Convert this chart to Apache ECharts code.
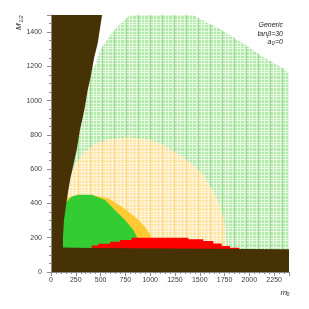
<!DOCTYPE html>
<html><head><meta charset="utf-8">
<script src="https://cdn.jsdelivr.net/npm/echarts@6/dist/echarts.min.js"></script>
<style>html,body{margin:0;padding:0;background:#fff}#c{width:309px;height:309px}</style>
</head><body><div id="c"></div>
<script>
// ---- data (m0, M1/2) ----
const xTickLabels = [0,250,500,750,1000,1250,1500,1750,2000,2250];
const yTickLabels = [0,200,400,600,800,1000,1200,1400];
const xRange = [0, 2400];
const yRange = [0, 1500];

const greenLightRegion = [[0,0],[2400,0],[2400,1160],[2340,1189],[2138,1257],[1937,1335],[1721,1413],[1430,1500],[800,1500],[700,1450],[612,1393],[500,1300],[440,1200],[0,1200]];
const yellowLightRegion = [[0,0],[1770,0],[1766,160],[1764,206],[1744,304],[1704,391],[1637,469],[1536,566],[1435,625],[1301,683],[1133,741],[981,775],[780,785],[578,775],[427,741],[310,683],[242,625],[209,566],[0,566]];
const orangeRegion = [[100,130],[100,430],[410,449],[578,430],[713,381],[847,323],[948,264],[1015,206],[1030,130]];
const greenSolidRegion = [[100,130],[100,400],[158,410],[209,440],[275,451],[410,451],[545,420],[645,362],[746,304],[830,245],[864,206],[880,190],[880,130]];
const redRegion = [[410,130],[410,155],[477,155],[477,165],[595,165],[595,176],[696,176],[696,187],[813,187],[813,200],[1385,200],[1385,191],[1536,191],[1536,181],[1637,181],[1637,167],[1721,167],[1721,152],[1805,152],[1805,142],[1899,142],[1899,130]];
const brownRegion = [[0,0],[2400,0],[2400,133],[410,140],[120,143],[121,206],[131,304],[155,402],[175,479],[200,560],[215,595],[259,712],[292,829],[336,946],[370,1062],[400,1140],[437,1257],[471,1335],[515,1500],[0,1500]];

function makePattern(base, light, dark) {
  const n = 12;
  const c = document.createElement('canvas');
  c.width = n; c.height = n;
  const g = c.getContext('2d');
  g.fillStyle = base; g.fillRect(0,0,n,n);
  g.fillStyle = light;
  [0,3,7,10].forEach(r => g.fillRect(0,r,n,1));
  [0,4,9].forEach(k => g.fillRect(k,0,1,n));
  g.fillStyle = dark;
  g.fillRect(6,0,1,n);
  return c;
}
const greenPat = {image: makePattern('#b4e9ac', '#e8f8e5', '#9ade91'), repeat: 'repeat'};
const yellowPat = {image: makePattern('#ffe5a3', '#fff5de', '#ffd985'), repeat: 'repeat'};

function polySeries(points, fill) {
  return {
    type: 'custom', data: [[0,0]], silent: true, clip: true,
    renderItem: function(params, api) {
      return {type: 'polygon', shape: {points: points.map(p => api.coord(p))}, style: {fill: fill}};
    }
  };
}

const chart = echarts.init(document.getElementById('c'), null, {renderer: 'canvas'});
const frame = '#8a8a8a';
const lblFont = {fontSize: 7, color: '#3a3a3a', fontFamily: 'Liberation Sans'};
chart.setOption({
  animation: false,
  grid: {left: 51, right: 20, top: 15, bottom: 37},
  xAxis: [
    {type: 'value', min: xRange[0], max: xRange[1], interval: 250, position: 'bottom', z: 10,
     axisLine: {show: true, lineStyle: {color: frame}}, axisTick: {show: false}, splitLine: {show: false},
     axisLabel: Object.assign({margin: 5, formatter: v => xTickLabels.includes(v) ? String(v) : ''}, lblFont)},
    {type: 'value', min: xRange[0], max: xRange[1], interval: 250, position: 'top', z: 10,
     axisLine: {show: true, lineStyle: {color: frame}}, axisTick: {show: true, inside: true, length: 4, lineStyle: {color: frame}},
     minorTick: {show: true, splitNumber: 5, length: 2, lineStyle: {color: frame}},
     splitLine: {show: false}, axisLabel: {show: false}}
  ],
  yAxis: [
    {type: 'value', min: yRange[0], max: yRange[1], interval: 200, position: 'left', z: 10,
     axisLine: {show: true, lineStyle: {color: frame}}, axisTick: {show: false}, splitLine: {show: false},
     axisLabel: Object.assign({margin: 9, formatter: v => yTickLabels.includes(v) ? String(v) : ''}, lblFont)},
    {type: 'value', min: yRange[0], max: yRange[1], interval: 200, position: 'right', z: 10,
     axisLine: {show: true, lineStyle: {color: frame}}, axisTick: {show: true, inside: true, length: 4, lineStyle: {color: frame}},
     minorTick: {show: true, splitNumber: 4, length: 2, lineStyle: {color: frame}},
     splitLine: {show: false}, axisLabel: {show: false}}
  ],
  series: [
    polySeries(greenLightRegion, greenPat),
    polySeries(yellowLightRegion, yellowPat),
    polySeries(orangeRegion, '#ffc933'),
    polySeries(greenSolidRegion, '#33cc33'),
    polySeries(redRegion, '#ff0000'),
    polySeries(brownRegion, '#473206')
  ],
  graphic: [
    {type: 'text', x: 283, y: 25.5, z: 100, style: {text: 'Generic', fontSize: 7, fontStyle: 'italic', fontFamily: 'Liberation Sans', fill: '#222', align: 'right', verticalAlign: 'middle'}},
    {type: 'text', x: 283, y: 34, z: 100, style: {text: 'tanβ=30', fontSize: 7, fontStyle: 'italic', fontFamily: 'Liberation Sans', fill: '#222', align: 'right', verticalAlign: 'middle'}},
    {type: 'text', x: 283, y: 42, z: 100, style: {text: '=0', fontSize: 7, fontStyle: 'italic', fontFamily: 'Liberation Sans', fill: '#222', align: 'right', verticalAlign: 'middle'}},
    {type: 'text', x: 274.5, y: 43.5, z: 100, style: {text: '0', fontSize: 5, fontStyle: 'italic', fontFamily: 'Liberation Sans', fill: '#222', align: 'right', verticalAlign: 'middle'}},
    {type: 'text', x: 271.5, y: 42, z: 100, style: {text: 'a', fontSize: 7, fontStyle: 'italic', fontFamily: 'Liberation Sans', fill: '#222', align: 'right', verticalAlign: 'middle'}},
    {type: 'text', x: 280.5, y: 293, z: 100, style: {text: 'm', fontSize: 8, fontStyle: 'italic', fontFamily: 'Liberation Sans', fill: '#222', align: 'left', verticalAlign: 'middle'}},
    {type: 'text', x: 286.5, y: 295, z: 100, style: {text: '0', fontSize: 5, fontStyle: 'italic', fontFamily: 'Liberation Sans', fill: '#222', align: 'left', verticalAlign: 'middle'}},
    {type: 'text', x: 19, y: 30, rotation: Math.PI/2, z: 100, style: {text: 'M', fontSize: 8, fontStyle: 'italic', fontFamily: 'Liberation Sans', fill: '#222', align: 'left', verticalAlign: 'middle'}},
    {type: 'text', x: 21.5, y: 22.5, rotation: Math.PI/2, z: 100, style: {text: '1/2', fontSize: 5, fontStyle: 'italic', fontFamily: 'Liberation Sans', fill: '#222', align: 'left', verticalAlign: 'middle'}}
  ]
});
</script>
</body></html>
